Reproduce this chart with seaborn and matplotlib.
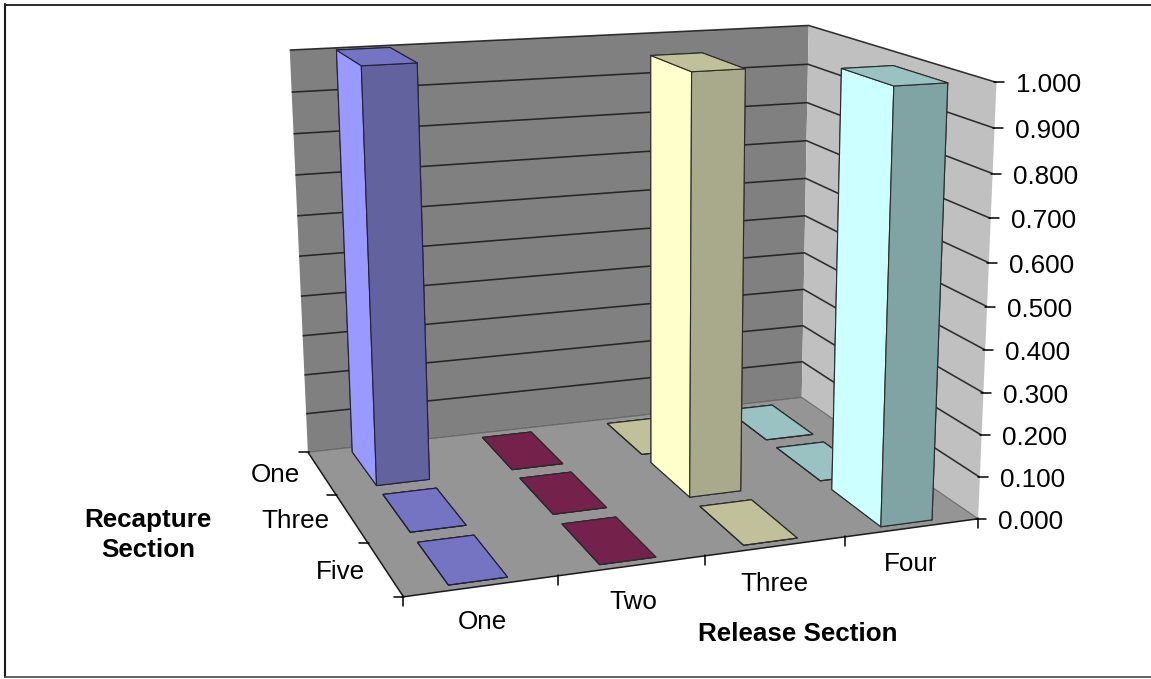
import numpy as np
import matplotlib
matplotlib.use("Agg")
import matplotlib.pyplot as plt
from matplotlib.lines import Line2D
from mpl_toolkits.mplot3d.art3d import Poly3DCollection, Line3DCollection
import seaborn as sns

# ---------- data ----------
release_labels = ["One", "Two", "Three", "Four"]
recapture_labels = ["One", "Three", "Five"]
release_one = [1.0, 0.0, 0.0]
release_two = [0.0, 0.0, 0.0]
release_three = [0.0, 1.0, 0.0]
release_four = [0.0, 0.0, 1.0]
value_ticks = [0.0, 0.1, 0.2, 0.3, 0.4, 0.5, 0.6, 0.7, 0.8, 0.9, 1.0]

# ---------- style ----------
sns.set_theme(style="white")
plt.rcParams["font.family"] = ["Liberation Sans", "DejaVu Sans"]
W, H = 1151, 679
FS = 18.7
side_cols = sns.color_palette(["#9999FF", "#7A2452", "#FFFFCC", "#CCFFFF"])
front_cols = sns.color_palette(["#62629F", "#5A1A3C", "#A9A98C", "#80A3A3"])
top_cols = sns.color_palette(["#7474C2", "#74224C", "#C0C09A", "#9AC2C2"])
BAR_X0, BAR_DX = 0.31, 0.385
BAR_Y0, BAR_DY = 0.11, 0.80

# camera: world (x = release, y = recapture, z = value) -> figure pixels
anchors = [((0, 0, 0), (308, 452)), ((4, 0, 0), (802, 398)),
           ((4, 3, 0), (978, 518)), ((0, 3, 0), (403, 597)),
           ((0, 0, 1), (290, 50)), ((4, 0, 1), (808, 25)),
           ((4, 3, 1), (997, 83))]
rows = []
for (X, Y, Z), (u, v) in anchors:
    rows.append([X, Y, Z, 1, 0, 0, 0, 0, -u * X, -u * Y, -u * Z, -u])
    rows.append([0, 0, 0, 0, X, Y, Z, 1, -v * X, -v * Y, -v * Z, -v])
P = np.linalg.svd(np.array(rows, float))[2][-1].reshape(3, 4)
P = P / P[2, 3]
M = np.vstack([P[0], P[1], [0, 0, 0, -1.0], P[2]])


def project(x, y, z):
    q = P @ np.array([x, y, z, 1.0])
    return q[0] / q[2], q[1] / q[2]


fig = plt.figure(figsize=(W / 100, H / 100), dpi=100, facecolor="white")
ax = fig.add_axes([0, 0, 1, 1], projection="3d", computed_zorder=False)
ax.get_proj = lambda: M
ax.apply_aspect = lambda position=None: None
ax.set_axis_off()

nx, ny = len(release_labels), len(recapture_labels)
# walls and floor
back = [[(0, 0, 0), (nx, 0, 0), (nx, 0, 1), (0, 0, 1)]]
side = [[(nx, 0, 0), (nx, ny, 0), (nx, ny, 1), (nx, 0, 1)]]
floor = [[(0, 0, 0), (nx, 0, 0), (nx, ny, 0), (0, ny, 0)]]
for poly, c in [(back, "#808080"), (side, "#C0C0C0"), (floor, "#959595")]:
    ax.add_collection3d(Poly3DCollection(poly, facecolors=c, edgecolors="none", zorder=1))

# grid lines
grid_segments = [[(0, 0, v), (nx, 0, v), (nx, ny, v)] for v in value_ticks if v > 0]
ax.add_collection3d(Line3DCollection(grid_segments, colors="#1c1c1c", linewidths=1.15,
                                     alpha=0.9, zorder=2))
ax.add_collection3d(Line3DCollection([[(0, 0, 0), (nx, 0, 0), (nx, ny, 0)]], colors="#333333",
                                     linewidths=0.8, alpha=0.55, zorder=2))
ax.add_collection3d(Line3DCollection([[(0, 0, 0), (0, ny, 0), (nx, ny, 0)]], colors="#1a1a1a",
                                     linewidths=1.1, zorder=2))

# bars, painted from the back row to the front
all_values = [release_one, release_two, release_three, release_four]
z = 3
for j in range(ny):
    for i in range(nx):
        val = all_values[i][j]
        t, s, f = top_cols[i], side_cols[i], front_cols[i]
        colors = [t, t, f, f, s, f]
        ax.bar3d(i + BAR_X0, j + BAR_Y0, 0, BAR_DX, BAR_DY, val, color=colors,
                 shade=False, edgecolor="#20203a" if i == 0 else "#2a2a2a",
                 linewidth=0.8, zorder=z)
        z += 1

ax.viewLim.intervalx = (0, W)
ax.viewLim.intervaly = (H, 0)


def ftext(x, y, s, **kw):
    fig.text(x / W, 1 - y / H, s, ha=kw.pop("ha", "center"), va="center",
             fontsize=FS, color="black", **kw)


def fline(x0, y0, x1, y1, color="black", lw=1.1):
    fig.add_artist(Line2D([x0 / W, x1 / W], [1 - y0 / H, 1 - y1 / H], color=color, lw=lw))


for v in value_ticks:
    px, py = project(nx, ny, v)
    fline(px - 2, py, px + 8, py)
    ftext(px + 20, py + 3, f"{v:.3f}", ha="left")
for i in range(nx + 1):
    px, py = project(i, ny, 0)
    fline(px, py - 1, px, py + 9)
for j in range(ny + 1):
    px, py = project(0, j, 0)
    fline(px - 9, py, px + 1, py)

for s, (x, y) in zip(release_labels, [(482, 622), (633, 602), (774, 584), (911, 564)]):
    ftext(x, y, s)
for s, (x, y) in zip(recapture_labels, [(275, 475), (295, 521), (340, 572)]):
    ftext(x, y, s)
ftext(148, 520, "Recapture", fontweight="bold")
ftext(148, 550, "Section", fontweight="bold")
ftext(798, 634, "Release Section", fontweight="bold")

# chart frame: only the left, top and bottom rules show in the crop
fline(5, 4.5, W, 4.5, color="#1a1a1a", lw=1.3)
fline(5, 4, 5, 677, color="#1a1a1a", lw=1.5)
fline(5, 677, W, 677, color="#555555", lw=1.3)

fig.savefig("out.png", dpi=100)
